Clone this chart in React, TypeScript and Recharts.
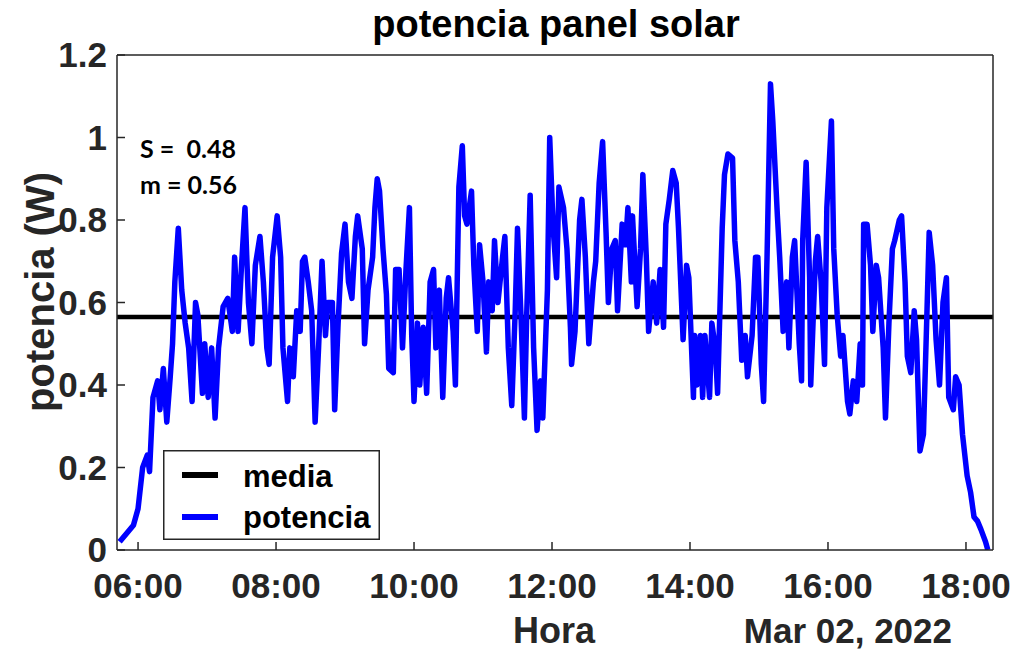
import { LineChart, Line, XAxis, YAxis, ReferenceLine, Legend } from 'recharts';

// minutes since midnight (06:00 = 360)
const hora = [
  344, 356, 360, 364, 368, 370, 373, 377, 379, 382,
  385, 388, 390, 392, 395, 398, 401, 404, 407, 410,
  412, 416, 418, 421, 424, 427, 430, 434, 438, 442,
  444, 447, 450, 453, 456, 459, 462,
  466, 469, 472, 474, 477, 481, 484, 486, 490, 492,
  495, 498, 501, 503, 505, 508, 511, 514, 517, 520,
  523, 525, 529, 531, 534, 537, 540, 543, 546, 549,
  551, 555, 557, 560, 564, 566, 568, 570, 573, 576,
  578, 582, 584, 587, 590, 593, 596,
  598, 600, 603, 605, 608, 611, 614, 617, 619, 622,
  625, 628, 630, 634, 636, 639, 642, 644, 646, 650,
  652, 655, 657, 660, 663, 665, 668, 670, 673, 677,
  679, 682, 685, 688, 690, 693, 696, 698, 701, 704,
  707, 710, 712, 716, 718, 721, 724, 726,
  730, 733, 736, 737, 740, 744, 746, 749, 752, 756,
  758, 761, 764, 767, 769, 772, 775, 777, 781, 784,
  786, 789, 790, 794, 797, 799, 802, 804, 808, 811,
  814, 817, 819, 822, 825, 828, 830, 834, 837, 839,
  843, 844, 846, 849, 851, 853, 857, 859, 862,
  864, 868, 870, 873, 877, 879, 882, 885, 888, 890,
  894, 897, 899, 902, 904, 907, 910, 912, 916, 918,
  921, 924, 926, 929, 931, 935, 937, 938, 941, 944,
  945, 949, 951, 954, 957, 959, 963, 965, 968, 971,
  973, 977, 979, 982, 985, 988,
  990, 991, 994, 997, 999, 1002, 1004, 1008, 1010, 1013,
  1016, 1018, 1022, 1024, 1027, 1029, 1032, 1035, 1037, 1040,
  1043, 1046, 1048, 1051, 1054, 1057, 1060, 1063, 1065, 1069,
  1071, 1074, 1077, 1081, 1084, 1087, 1090, 1093, 1097, 1099,
];

// potencia (W)
const potencia = [
  0.02, 0.06, 0.10, 0.20, 0.23, 0.19, 0.37, 0.41, 0.34, 0.44,
  0.31, 0.42, 0.50, 0.65, 0.78, 0.63, 0.55, 0.49, 0.36, 0.60,
  0.57, 0.38, 0.50, 0.37, 0.49, 0.32, 0.49, 0.59, 0.61, 0.53,
  0.71, 0.53, 0.69, 0.83, 0.60, 0.50, 0.69,
  0.76, 0.65, 0.49, 0.45, 0.71, 0.81, 0.71, 0.49, 0.36, 0.49,
  0.42, 0.58, 0.53, 0.70, 0.71, 0.65, 0.58, 0.31, 0.49, 0.70,
  0.52, 0.60, 0.60, 0.34, 0.55, 0.72, 0.79, 0.65, 0.61, 0.76,
  0.81, 0.73, 0.50, 0.63, 0.71, 0.83, 0.90, 0.87, 0.73, 0.62,
  0.44, 0.43, 0.68, 0.68, 0.49, 0.68, 0.83,
  0.52, 0.36, 0.55, 0.40, 0.54, 0.38, 0.65, 0.68, 0.49, 0.63,
  0.37, 0.61, 0.66, 0.53, 0.40, 0.88, 0.98, 0.81, 0.79, 0.87,
  0.69, 0.53, 0.74, 0.65, 0.48, 0.65, 0.58, 0.75, 0.60, 0.71,
  0.76, 0.49, 0.35, 0.58, 0.78, 0.57, 0.32, 0.57, 0.86, 0.49,
  0.29, 0.41, 0.32, 0.63, 1.00, 0.78, 0.66, 0.88,
  0.83, 0.73, 0.54, 0.45, 0.53, 0.80, 0.85, 0.71, 0.50, 0.65,
  0.70, 0.89, 0.99, 0.77, 0.60, 0.73, 0.75, 0.58, 0.79, 0.74,
  0.83, 0.65, 0.81, 0.59, 0.73, 0.91, 0.71, 0.53, 0.65, 0.55,
  0.68, 0.54, 0.79, 0.85, 0.92, 0.89, 0.78, 0.51, 0.69, 0.66,
  0.37, 0.52, 0.40, 0.52, 0.37, 0.52, 0.37, 0.55, 0.49,
  0.38, 0.78, 0.91, 0.96, 0.95, 0.75, 0.65, 0.46, 0.52, 0.42,
  0.52, 0.71, 0.71, 0.45, 0.36, 0.71, 1.13, 1.04, 0.81, 0.71,
  0.53, 0.65, 0.49, 0.71, 0.75, 0.50, 0.41, 0.75, 0.94, 0.66,
  0.40, 0.70, 0.76, 0.65, 0.45, 0.83, 1.04, 0.73, 0.57, 0.47,
  0.52, 0.36, 0.33, 0.41, 0.36, 0.50,
  0.40, 0.79, 0.79, 0.69, 0.53, 0.69, 0.66, 0.49, 0.32, 0.55,
  0.73, 0.75, 0.80, 0.81, 0.65, 0.47, 0.43, 0.58, 0.51, 0.24,
  0.28, 0.57, 0.77, 0.69, 0.51, 0.40, 0.60, 0.66, 0.37, 0.34,
  0.42, 0.40, 0.28, 0.18, 0.14, 0.08, 0.07, 0.05, 0.02, 0.00,
];

const media = 0.565;
const desviacion = 0.48;

const horaTicks = [360, 480, 600, 720, 840, 960, 1080];
const potTicks = [0, 0.2, 0.4, 0.6, 0.8, 1, 1.2];
const horaDomain = [341.7, 1103.5];

const data = hora.slice(0, Math.min(hora.length, potencia.length)).map((t, i) => ({ t, potencia: potencia[i] }));

const FONT = '"Liberation Sans", Arial, Helvetica, sans-serif';
const AXIS = '#262626';

const fmtHora = (m: number) => `${String(Math.floor(m / 60)).padStart(2, '0')}:${String(m % 60).padStart(2, '0')}`;

const tickStyle = { fontSize: 35, fontWeight: 700, fill: AXIS, fontFamily: FONT };
const axisLine = { stroke: AXIS, strokeWidth: 1.5 };

function LegendBox() {
  return (
    <svg width={217} height={90} style={{ display: 'block' }}>
      <rect x={0.75} y={0.75} width={215.5} height={88.5} fill="#fff" stroke={AXIS} strokeWidth={1.5} />
      <line x1={19} x2={55} y1={25} y2={25} stroke="#000" strokeWidth={6} />
      <text x={80} y={37} fontSize={31} fontWeight={700} fill="#000" fontFamily={FONT}>media</text>
      <line x1={19} x2={55} y1={67} y2={67} stroke="#0000ff" strokeWidth={6} />
      <text x={80} y={78} fontSize={31} fontWeight={700} fill="#000" fontFamily={FONT}>potencia</text>
    </svg>
  );
}

export default function App() {
  return (
    <div style={{ position: 'absolute', left: 0, top: 0, width: 1013, height: 651, background: '#fff' }}>
      <LineChart width={1013} height={651} data={data} margin={{ top: 54, right: 19, left: 0, bottom: 0 }}>
        <XAxis
          dataKey="t"
          type="number"
          domain={horaDomain}
          allowDataOverflow
          ticks={horaTicks}
          tickFormatter={fmtHora}
          height={101}
          tickSize={-8}
          tickMargin={31}
          tick={tickStyle}
          axisLine={axisLine}
          tickLine={axisLine}
        />
        <XAxis
          xAxisId="top"
          dataKey="t"
          orientation="top"
          type="number"
          domain={horaDomain}
          allowDataOverflow
          ticks={horaTicks}
          height={1}
          tickSize={-8}
          tick={false}
          axisLine={axisLine}
          tickLine={axisLine}
        />
        <YAxis
          type="number"
          domain={[0, 1.2]}
          allowDataOverflow
          ticks={potTicks}
          tickFormatter={(v: number) => String(v)}
          width={117}
          tickSize={-8}
          tickMargin={18}
          tick={tickStyle}
          axisLine={axisLine}
          tickLine={axisLine}
        />
        <YAxis
          yAxisId="right"
          orientation="right"
          type="number"
          domain={[0, 1.2]}
          allowDataOverflow
          ticks={potTicks}
          width={1}
          tickSize={-8}
          tick={false}
          axisLine={axisLine}
          tickLine={axisLine}
        />
        <ReferenceLine y={media} stroke="#000" strokeWidth={4.5} />
        <Line
          type="linear"
          dataKey="potencia"
          stroke="#0000ff"
          strokeWidth={5.5}
          strokeLinejoin="round"
          dot={false}
          isAnimationActive={false}
        />
        <Line
          xAxisId="top"
          yAxisId="right"
          dataKey="potencia"
          stroke="none"
          dot={false}
          activeDot={false}
          legendType="none"
          isAnimationActive={false}
        />
        <Legend
          verticalAlign="middle"
          align="center"
          wrapperStyle={{ left: 163, top: 450, width: 217, height: 90 }}
          content={() => <LegendBox />}
        />
      </LineChart>
      <svg
        width={1013}
        height={651}
        style={{ position: 'absolute', left: 0, top: 0, pointerEvents: 'none' }}
      >
        <text x={556} y={37} textAnchor="middle" fontSize={38} fontWeight={700} fill="#000" fontFamily={FONT}>
          potencia panel solar
        </text>
        <text
          transform="translate(54, 292) rotate(-90)"
          textAnchor="middle"
          fontSize={40}
          fontWeight={700}
          fill={AXIS}
          fontFamily={FONT}
        >
          potencia (W)
        </text>
        <text x={554} y={643} textAnchor="middle" fontSize={36} fontWeight={700} fill={AXIS} fontFamily={FONT}>
          Hora
        </text>
        <text x={952} y={643} textAnchor="end" fontSize={35} fontWeight={700} fill={AXIS} fontFamily={FONT}>
          Mar 02, 2022
        </text>
        <text x={140} y={158} fontSize={25} fontWeight={700} fill="#000" fontFamily="Lato, sans-serif" xmlSpace="preserve">
          {`S =  ${desviacion.toFixed(2)}`}
        </text>
        <text x={140} y={194} fontSize={25} fontWeight={700} fill="#000" fontFamily="Lato, sans-serif">
          {`m = ${media.toFixed(2)}`}
        </text>
      </svg>
    </div>
  );
}
